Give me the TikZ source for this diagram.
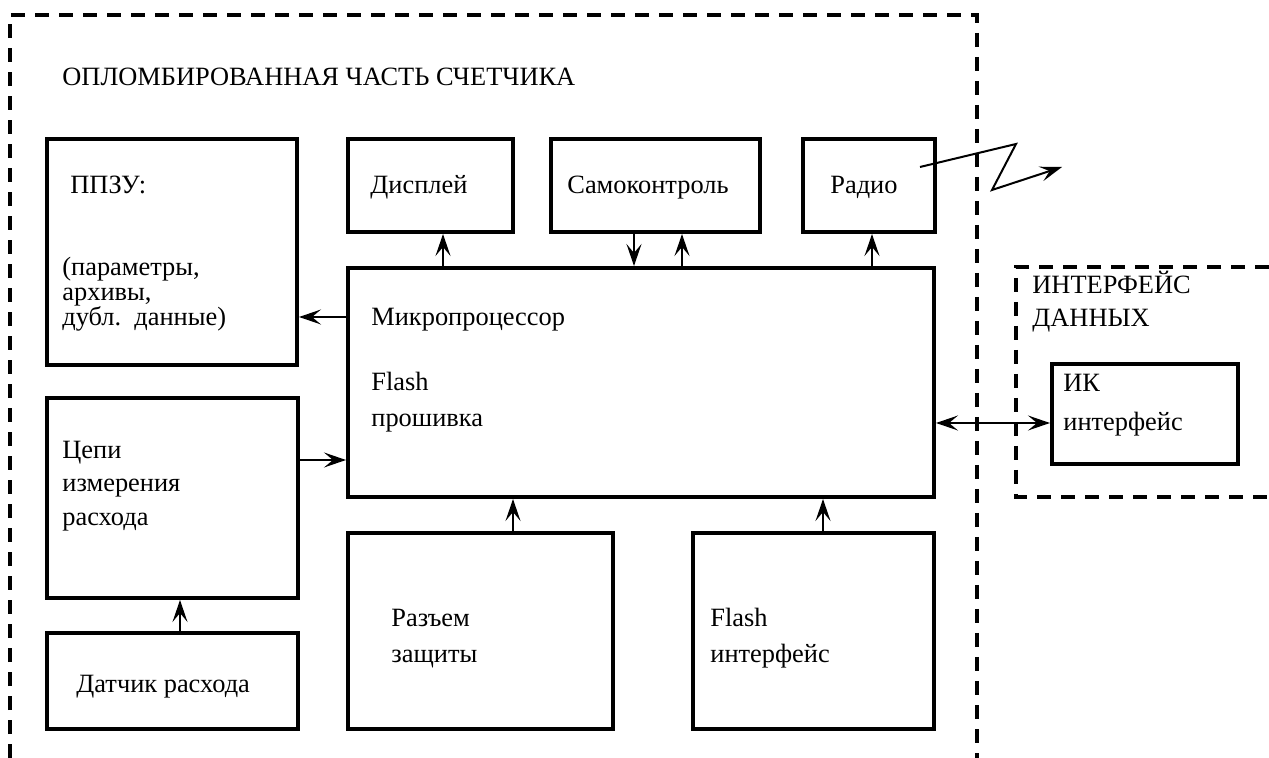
\documentclass[tikz,border=0pt]{standalone}
\usepackage{fontspec}
\setmainfont{Liberation Serif}
\usetikzlibrary{arrows.meta}

\tikzset{
  blk/.style={draw,line width=2pt,inner sep=0pt},
  lbl/.style={anchor=base west,inner sep=0pt,font=\fontsize{13.2pt}{15pt}\selectfont},
  arr/.style={line width=1pt,-{Stealth[length=11pt,width=7.5pt,inset=4.5pt]}},
  arr2/.style={line width=1pt,{Stealth[length=11pt,width=7.5pt,inset=4.5pt]}-{Stealth[length=11pt,width=7.5pt,inset=4.5pt]}},
  frame/.style={line width=2pt,dash pattern=on 7pt off 5pt}
}

\begin{document}
\begin{tikzpicture}[x=0.5pt,y=-0.5pt]
\useasboundingbox (0,0) rectangle (1269,758);

% sealed part and data interface
\draw[frame] (10,758) -- (10,15) -- (977,15) -- (977,758);
\draw[frame] (1269,267) -- (1016,267) -- (1016,497) -- (1269,497);
\node[lbl] (title) at (62,86) {ОПЛОМБИРОВАННАЯ ЧАСТЬ СЧЕТЧИКА};
\node[lbl] (ifT1) at (1032,294) {ИНТЕРФЕЙС};
\node[lbl] (ifT2) at (1032,327) {ДАННЫХ};

% blocks
\node[blk,minimum width=125pt,minimum height=113pt] (ppzu) at (172,252) {};
\node[blk,minimum width=82.5pt,minimum height=46.5pt] (disp) at (430.5,185.5) {};
\node[blk,minimum width=104.5pt,minimum height=46.5pt] (self) at (655.5,185.5) {};
\node[blk,minimum width=66pt,minimum height=46.5pt] (radio) at (869,185.5) {};
\node[blk,minimum width=293pt,minimum height=114.5pt] (cpu) at (641,382.5) {};
\node[blk,minimum width=125.5pt,minimum height=100pt] (meas) at (172.5,498) {};
\node[blk,minimum width=125.5pt,minimum height=48pt] (sens) at (172.5,681) {};
\node[blk,minimum width=132.5pt,minimum height=98pt] (seal) at (480.5,631) {};
\node[blk,minimum width=120.5pt,minimum height=98pt] (flif) at (813.5,631) {};
\node[blk,minimum width=93pt,minimum height=50pt] (ir) at (1145,414) {};

% texts
\node[lbl] (ppzuT1) at (70,194) {ППЗУ:};
\node[lbl] (ppzuT2) at (62,276) {(параметры,};
\node[lbl] (ppzuT3) at (62,301) {архивы,};
\node[lbl] (ppzuT4) at (62,326) {дубл.\ \ данные)};
\node[lbl] (dispT) at (370,194) {Дисплей};
\node[lbl] (selfT) at (567,194) {Самоконтроль};
\node[lbl] (radioT) at (830,194) {Радио};
\node[lbl] (cpuT1) at (371,326) {Микропроцессор};
\node[lbl] (cpuT2) at (371,391) {Flash};
\node[lbl] (cpuT3) at (371,427) {прошивка};
\node[lbl] (measT1) at (62,459) {Цепи};
\node[lbl] (measT2) at (62,492) {измерения};
\node[lbl] (measT3) at (62,526) {расхода};
\node[lbl] (sensT) at (76,692) {Датчик расхода};
\node[lbl] (sealT1) at (391,627) {Разъем};
\node[lbl] (sealT2) at (391,662) {защиты};
\node[lbl] (flifT1) at (710,627) {Flash};
\node[lbl] (flifT2) at (710,662) {интерфейс};
\node[lbl] (irT1) at (1063,392) {ИК};
\node[lbl] (irT2) at (1063,431) {интерфейс};

% links
\draw[arr] ([xshift=6.25pt]disp.south |- cpu.north) -- ([xshift=6.25pt]disp.south);
\draw[arr] ([xshift=-10.75pt]self.south) -- ([xshift=-10.75pt]self.south |- cpu.north);
\draw[arr] ([xshift=13.25pt]self.south |- cpu.north) -- ([xshift=13.25pt]self.south);
\draw[arr] ([xshift=1.5pt]radio.south |- cpu.north) -- ([xshift=1.5pt]radio.south);
\draw[arr] ([yshift=32.75pt]cpu.west) -- ([yshift=32.75pt]cpu.west -| ppzu.east);
\draw[arr] ([yshift=19pt]meas.east) -- ([yshift=19pt]meas.east -| cpu.west);
\draw[arr] ([xshift=16.25pt]seal.north) -- ([xshift=16.25pt]seal.north |- cpu.south);
\draw[arr] ([xshift=4.75pt]flif.north) -- ([xshift=4.75pt]flif.north |- cpu.south);
\draw[arr] ([xshift=3.75pt]sens.north) -- ([xshift=3.75pt]sens.north |- meas.south);
\draw[arr2] ([yshift=-20.25pt]cpu.east) -- ([yshift=-20.25pt]cpu.east -| ir.west);

% radio link
\coordinate (w0) at (920,167);
\coordinate (w1) at (1016,144);
\coordinate (w2) at (992,190);
\coordinate (w3) at (1062,167);
\draw[arr] (w0) -- (w1) -- (w2) -- (w3);
\end{tikzpicture}
\end{document}
